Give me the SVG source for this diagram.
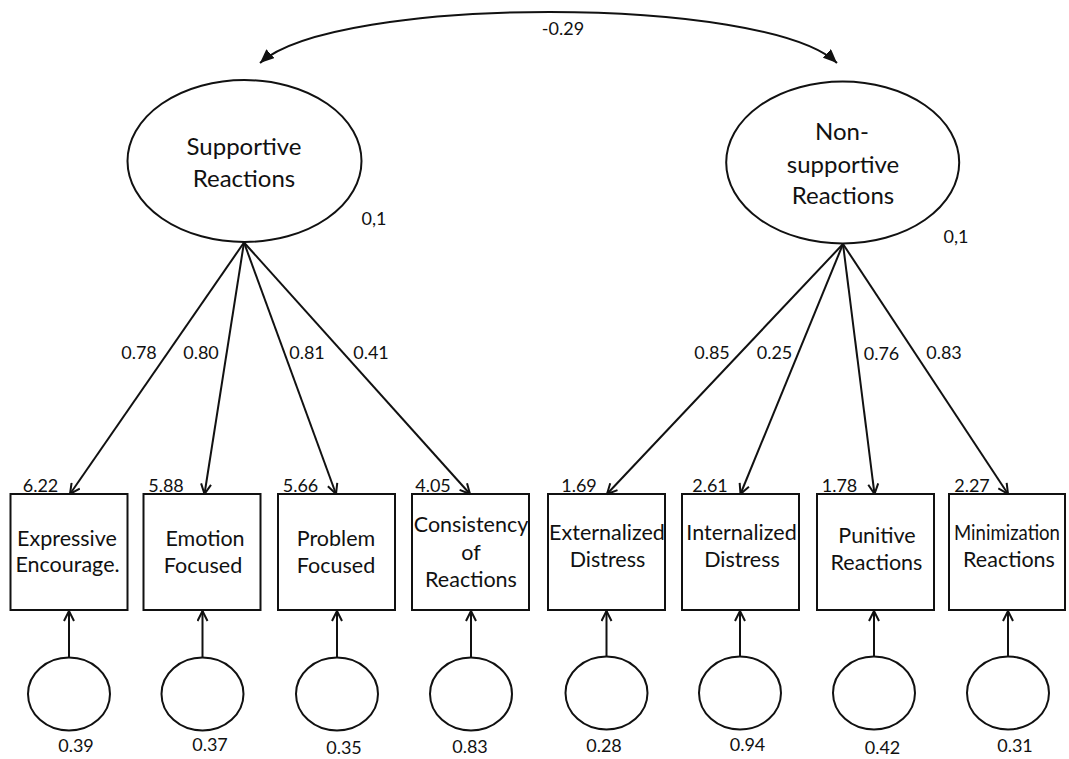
<svg xmlns="http://www.w3.org/2000/svg" width="1069" height="759" viewBox="0 0 1069 759">
<defs>
<style>
.shape{fill:#fff;stroke:#111;stroke-width:2}
.edge{fill:none;stroke:#111;stroke-width:2}
.t{font-family:Lato,"Open Sans","Liberation Sans",sans-serif;fill:#111;text-anchor:middle}
.big{font-size:24px}
.box{font-size:21.5px}
.num{font-size:18px}
</style>
<marker id="v" viewBox="0 0 12 12" refX="11" refY="6" markerWidth="12" markerHeight="12" markerUnits="userSpaceOnUse" orient="auto">
<path d="M1,1 L11,6 L1,11" fill="none" stroke="#111" stroke-width="2"/>
</marker>
<marker id="f" viewBox="0 0 14 12" refX="14" refY="6" markerWidth="14" markerHeight="12" markerUnits="userSpaceOnUse" orient="auto-start-reverse">
<path d="M0,0 L14,6 L0,12 z" fill="#111"/>
</marker>
</defs>
<rect width="1069" height="759" fill="#fff"/>

<g id="latent-supportive">
<ellipse class="shape" cx="244.5" cy="161" rx="117" ry="81"/>
<text class="t big" x="244" y="155">Supportive</text>
<text class="t big" x="244" y="187">Reactions</text>
<text class="t num" x="374" y="225">0,1</text>
</g>
<g id="latent-nonsupportive">
<ellipse class="shape" cx="842.7" cy="162.5" rx="116.5" ry="81"/>
<text class="t big" x="842" y="140">Non-</text>
<text class="t big" x="843" y="172.5">supportive</text>
<text class="t big" x="843" y="204">Reactions</text>
<text class="t num" x="956" y="243">0,1</text>
</g>

<g id="box-expressive">
<rect class="shape" x="10.5" y="494" width="117" height="116"/>
<text class="t box" x="67" y="545.5">Expressive</text>
<text class="t box" x="67.5" y="572">Encourage.</text>
</g>
<g id="box-emotion">
<rect class="shape" x="143.5" y="494" width="117" height="116"/>
<text class="t box" x="205" y="545.5">Emotion</text>
<text class="t box" x="203" y="572.5">Focused</text>
</g>
<g id="box-problem">
<rect class="shape" x="278" y="494" width="117" height="116"/>
<text class="t box" x="336" y="545.5">Problem</text>
<text class="t box" x="336" y="572.5">Focused</text>
</g>
<g id="box-consistency">
<rect class="shape" x="412" y="494" width="117" height="116"/>
<text class="t box" x="471" y="532">Consistency</text>
<text class="t box" x="471" y="559.5">of</text>
<text class="t box" x="471" y="587">Reactions</text>
</g>
<g id="box-externalized">
<rect class="shape" x="548" y="494" width="117" height="116"/>
<text class="t box" x="607" y="540">Externalized</text>
<text class="t box" x="607.5" y="566.5">Distress</text>
</g>
<g id="box-internalized">
<rect class="shape" x="682" y="494" width="117" height="116"/>
<text class="t box" x="741.5" y="540">Internalized</text>
<text class="t box" x="742" y="566.5">Distress</text>
</g>
<g id="box-punitive">
<rect class="shape" x="817" y="494" width="117" height="116"/>
<text class="t box" x="877" y="543">Punitive</text>
<text class="t box" x="876.5" y="569.5">Reactions</text>
</g>
<g id="box-minimization">
<rect class="shape" x="949" y="494" width="116" height="116"/>
<text class="t box" x="1007" y="540" style="font-size:20.5px" textLength="106" lengthAdjust="spacingAndGlyphs">Minimization</text>
<text class="t box" x="1009" y="566.5">Reactions</text>
</g>

<g id="err-1"><ellipse class="shape" cx="69" cy="694" rx="41" ry="36.5"/><text class="t num" x="76" y="752">0.39</text></g>
<g id="err-2"><ellipse class="shape" cx="202.5" cy="694" rx="41" ry="36.5"/><text class="t num" x="210" y="751">0.37</text></g>
<g id="err-3"><ellipse class="shape" cx="337" cy="694" rx="41" ry="36.5"/><text class="t num" x="344" y="754">0.35</text></g>
<g id="err-4"><ellipse class="shape" cx="471" cy="694" rx="41" ry="36.5"/><text class="t num" x="470" y="753">0.83</text></g>
<g id="err-5"><ellipse class="shape" cx="606.5" cy="693" rx="41" ry="36.5"/><text class="t num" x="604" y="752">0.28</text></g>
<g id="err-6"><ellipse class="shape" cx="740" cy="693" rx="41" ry="36.5"/><text class="t num" x="747.5" y="751">0.94</text></g>
<g id="err-7"><ellipse class="shape" cx="874" cy="693" rx="41" ry="36.5"/><text class="t num" x="882.5" y="754">0.42</text></g>
<g id="err-8"><ellipse class="shape" cx="1008" cy="693" rx="41" ry="36.5"/><text class="t num" x="1015" y="751.5">0.31</text></g>

<g id="connectors">
<path class="edge" d="M260,63 C335,-5 765,-5 837,63" marker-start="url(#f)" marker-end="url(#f)"/>
<text class="t num" x="563" y="35">-0.29</text>

<line class="edge" x1="244" y1="242.5" x2="70" y2="494" marker-end="url(#v)"/>
<line class="edge" x1="244" y1="242.5" x2="204.5" y2="494" marker-end="url(#v)"/>
<line class="edge" x1="244" y1="242.5" x2="336" y2="494" marker-end="url(#v)"/>
<line class="edge" x1="244" y1="242.5" x2="470" y2="494" marker-end="url(#v)"/>
<line class="edge" x1="843" y1="244" x2="607" y2="494" marker-end="url(#v)"/>
<line class="edge" x1="843" y1="244" x2="740.5" y2="494" marker-end="url(#v)"/>
<line class="edge" x1="843" y1="244" x2="874.5" y2="494" marker-end="url(#v)"/>
<line class="edge" x1="843" y1="244" x2="1008" y2="494" marker-end="url(#v)"/>

<text class="t num" x="139" y="359">0.78</text>
<text class="t num" x="201" y="359">0.80</text>
<text class="t num" x="307" y="359">0.81</text>
<text class="t num" x="371" y="359">0.41</text>
<text class="t num" x="712" y="358.5">0.85</text>
<text class="t num" x="774.5" y="358.5">0.25</text>
<text class="t num" x="881.5" y="360">0.76</text>
<text class="t num" x="944" y="359">0.83</text>

<text class="t num" x="40.5" y="492">6.22</text>
<text class="t num" x="166" y="492">5.88</text>
<text class="t num" x="300.5" y="492">5.66</text>
<text class="t num" x="433" y="492">4.05</text>
<text class="t num" x="579" y="492">1.69</text>
<text class="t num" x="710" y="492">2.61</text>
<text class="t num" x="839.5" y="492">1.78</text>
<text class="t num" x="972" y="492">2.27</text>

<line class="edge" x1="69" y1="657.5" x2="69" y2="611" marker-end="url(#v)"/>
<line class="edge" x1="202.5" y1="657.5" x2="202.5" y2="611" marker-end="url(#v)"/>
<line class="edge" x1="337" y1="657.5" x2="337" y2="611" marker-end="url(#v)"/>
<line class="edge" x1="471" y1="657.5" x2="471" y2="611" marker-end="url(#v)"/>
<line class="edge" x1="606.5" y1="656.5" x2="606.5" y2="611" marker-end="url(#v)"/>
<line class="edge" x1="740" y1="656.5" x2="740" y2="611" marker-end="url(#v)"/>
<line class="edge" x1="874" y1="656.5" x2="874" y2="611" marker-end="url(#v)"/>
<line class="edge" x1="1008" y1="656.5" x2="1008" y2="611" marker-end="url(#v)"/>
</g>
</svg>
